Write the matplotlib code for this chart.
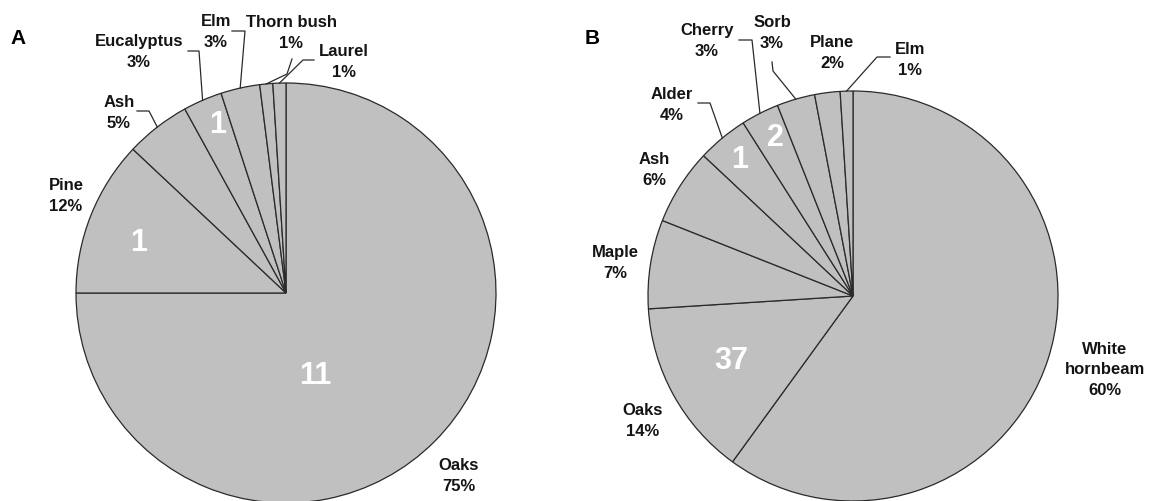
import numpy as np
import matplotlib.pyplot as plt

# panel A: tree species share
a_names = ["Oaks", "Pine", "Ash", "Eucalyptus", "Elm", "Thorn bush", "Laurel"]
a_pct = [75, 12, 5, 3, 3, 1, 1]

# panel B
b_names = ["White\nhornbeam", "Oaks", "Maple", "Ash", "Alder", "Cherry", "Sorb", "Plane", "Elm"]
b_pct = [60, 14, 7, 6, 4, 3, 3, 2, 1]

# white counts written inside some slices
a_counts = {"Oaks": "11", "Pine": "1", "Eucalyptus": "1"}
b_counts = {"Oaks": "37", "Alder": "1", "Cherry": "2"}

W, H = 1159, 502
plt.rcParams['font.family'] = ['Liberation Sans', 'DejaVu Sans']

fig = plt.figure(figsize=(W / 100, H / 100), dpi=100)
ax = fig.add_axes([0, 0, 1, 1])

GRAY = '#c0c0c0'
EDGE = '#2a2a2a'


def px(x, y):
    # pixel position measured from the top-left corner -> data coords
    return x, H - y


def draw_pie(values, cx, cy, r):
    wedges, _ = ax.pie(values, center=px(cx, cy), radius=r, startangle=90,
                       counterclock=False, colors=[GRAY] * len(values),
                       wedgeprops=dict(edgecolor=EDGE, linewidth=0.9),
                       frame=True)
    return wedges


def edge_point(w, frac=1.0):
    ang = np.deg2rad((w.theta1 + w.theta2) / 2)
    return (w.center[0] + frac * w.r * np.cos(ang),
            w.center[1] + frac * w.r * np.sin(ang))


def label(txt, x, y, **kw):
    ax.text(*px(x, y), txt, ha='center', va='center', fontsize=12,
            fontweight='bold', color='#141414', linespacing=1.45, **kw)


def leader(w, pts):
    xs = [px(*p)[0] for p in pts]
    ys = [px(*p)[1] for p in pts]
    ex, ey = edge_point(w)
    ax.plot(xs + [ex], ys + [ey], color='#2a2a2a', lw=0.9)


wa = draw_pie(a_pct, 286, 294, 210)
wb = draw_pie(b_pct, 853, 297, 205)

# panel letters
ax.text(*px(18, 38), "A", fontsize=15, fontweight='bold', ha='center', va='center')
ax.text(*px(592, 38), "B", fontsize=15, fontweight='bold', ha='center', va='center')

# panel A labels
a_pos = {
    "Oaks": (459, 476), "Pine": (66, 196), "Ash": (119, 113),
    "Eucalyptus": (139, 52), "Elm": (216, 32), "Thorn bush": (291, 33),
    "Laurel": (344, 62),
}
for name, p, w in zip(a_names, a_pct, wa):
    label(f"{name}\n{p}%", *a_pos[name])
amap = dict(zip(a_names, wa))
leader(amap["Ash"], [(137, 112), (149, 112)])
leader(amap["Eucalyptus"], [(188, 52), (199, 52)])
leader(amap["Elm"], [(232, 32), (245, 32)])
leader(amap["Thorn bush"], [(292, 60), (287, 75)])
leader(amap["Laurel"], [(314, 61), (303, 61)])

a_num_pos = {"Oaks": (315, 376), "Pine": (139, 243), "Eucalyptus": (218, 125)}
for name, txt in a_counts.items():
    ax.text(*px(*a_num_pos[name]), txt, color='white', fontsize=22,
            fontweight='bold', ha='center', va='center')

# panel B labels
b_pos = {
    "White\nhornbeam": (1105, 370), "Oaks": (643, 421), "Maple": (615, 263),
    "Ash": (654, 170), "Alder": (672, 105), "Cherry": (707, 41),
    "Sorb": (772, 33), "Plane": (832, 53), "Elm": (910, 60),
}
for name, p, w in zip(b_names, b_pct, wb):
    label(f"{name}\n{p}%", *b_pos[name])
bmap = dict(zip(b_names, wb))
leader(bmap["Alder"], [(698, 104), (710, 104)])
leader(bmap["Cherry"], [(739, 41), (752, 41)])
leader(bmap["Sorb"], [(772, 63), (773, 72)])
leader(bmap["Elm"], [(890, 58), (877, 58)])

b_num_pos = {"Oaks": (731, 361), "Alder": (740, 160), "Cherry": (775, 138)}
for name, txt in b_counts.items():
    ax.text(*px(*b_num_pos[name]), txt, color='white', fontsize=22,
            fontweight='bold', ha='center', va='center')

ax.set_xlim(0, W)
ax.set_ylim(0, H)
ax.set_aspect('auto')
ax.axis('off')

fig.savefig("out.png", dpi=100, facecolor='white')
